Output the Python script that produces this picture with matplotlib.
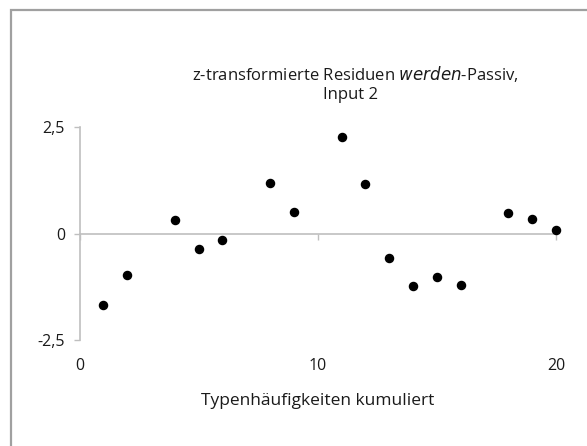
import matplotlib
matplotlib.use("Agg")
from matplotlib import pyplot as plt
from matplotlib.patches import Rectangle

# Cumulated type frequencies (x) and z-transformed residuals (y)
typ_kumuliert = [1, 2, 4, 5, 6, 8, 9, 11, 12, 13, 14, 15, 16, 18, 19, 20]
z_residuen = [-1.67, -0.98, 0.31, -0.36, -0.16, 1.19, 0.50, 2.27,
              1.16, -0.58, -1.24, -1.01, -1.22, 0.49, 0.34, 0.09]

x_ticks = [0, 10, 20]
y_ticks = [-2.5, 0, 2.5]
y_tick_labels = ["-2,5", "0", "2,5"]

plt.rcParams['font.family'] = ['Open Sans', 'DejaVu Sans']
text_color = '#1a1a1a'
axis_color = '#bfbfbf'

fig = plt.figure(figsize=(5.87, 4.46), dpi=100)
ax = fig.add_axes([79.5 / 587, 106 / 446, 476.5 / 587, 213 / 446])

ax.scatter(typ_kumuliert, z_residuen, s=34, color='black', zorder=3, clip_on=False)

ax.set_xlim(0, 20)
ax.set_ylim(-2.5, 2.5)

# Horizontal axis crosses at zero, vertical axis on the left
ax.spines['bottom'].set_position(('data', 0))
ax.spines['top'].set_visible(False)
ax.spines['right'].set_visible(False)
for side in ['left', 'bottom']:
    ax.spines[side].set_color(axis_color)
    ax.spines[side].set_linewidth(1.2)

ax.set_xticks(x_ticks)
ax.set_yticks(y_ticks)
ax.set_yticklabels(y_tick_labels)
ax.tick_params(axis='both', colors=axis_color, length=4.5, width=1.0,
               labelcolor=text_color, labelsize=11.5)
# x labels sit below the plot area, not at the zero line
ax.tick_params(axis='x', pad=85)
ax.tick_params(axis='y', pad=6)

ax.set_xlabel("Typenhäufigkeiten kumuliert", fontsize=12.5, color=text_color)
ax.xaxis.set_label_coords(0.5, -0.25)

fig.text(0.605, 0.835, "z-transformierte Residuen $\\it{werden}$-Passiv,",
         ha='center', va='center', fontsize=12, color=text_color)
fig.text(0.597, 0.786, "Input 2", ha='center', va='center', fontsize=12,
         color=text_color)

# Chart area frame
fig.add_artist(Rectangle((11 / 587, -0.1), 1.2, 0.1 + 1 - 10 / 446,
                         transform=fig.transFigure, fill=False,
                         edgecolor='#a0a0a0', linewidth=1.6, clip_on=False))

fig.savefig("out.png", dpi=100, facecolor='white')
